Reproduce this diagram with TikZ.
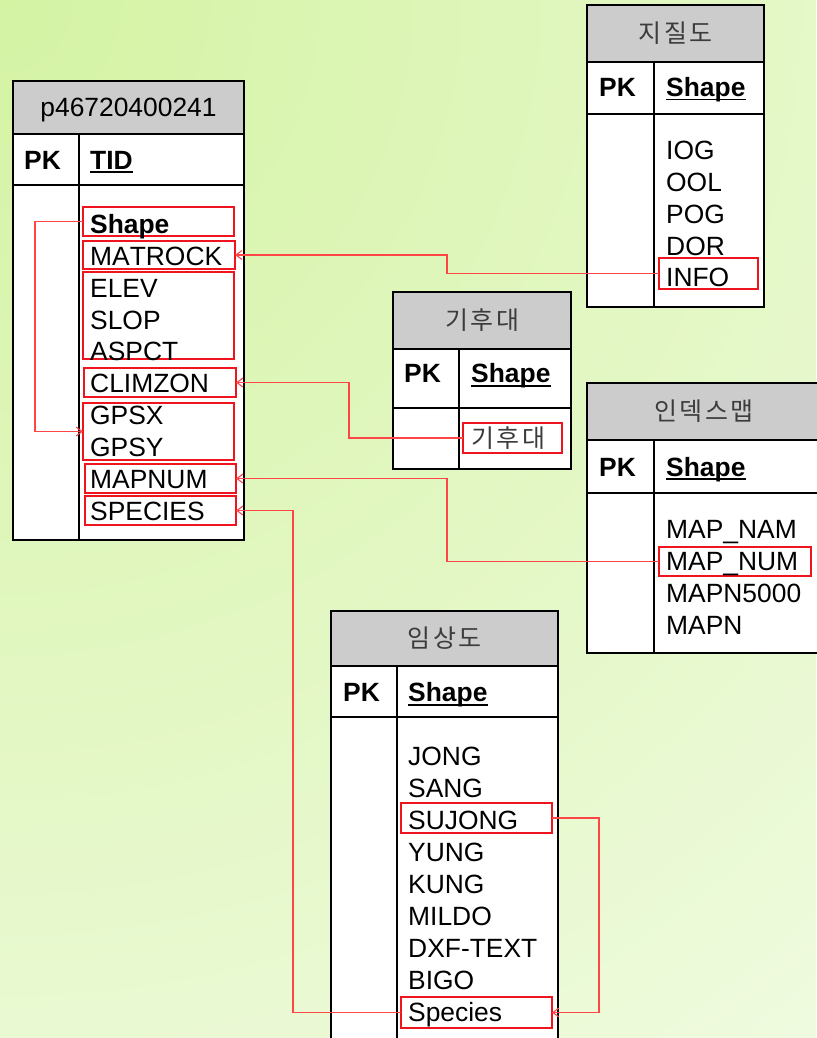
\documentclass[tikz,border=0pt]{standalone}
\usepackage{fontspec}
\setmainfont[Kerning=Off]{Liberation Sans}
\newfontfamily\kr[LetterSpace=10]{Noto Sans CJK KR}
\usetikzlibrary{arrows.meta,calc}
\definecolor{bgpale}{RGB}{247,253,240}
\definecolor{bggreen}{RGB}{212,243,163}
\definecolor{hdrgray}{RGB}{204,204,204}
\definecolor{boxred}{RGB}{240,20,30}
\definecolor{connred}{RGB}{255,70,70}
\definecolor{ttlgray}{RGB}{60,60,60}
\tikzset{
  tbl/.style={draw=black, line width=1.6pt, fill=white, rectangle, inner sep=0pt, outer sep=0pt},
  hdr/.style={tbl, fill=hdrgray},
  tline/.style={draw=black, line width=1.6pt},
  rbox/.style={draw=boxred, line width=1.3pt, rectangle, inner sep=0pt, outer sep=0pt},
  txt/.style={inner sep=0pt, anchor=base west, font=\fontsize{26.4}{31}\selectfont},
  btxt/.style={inner sep=0pt, anchor=base west, font=\fontsize{26.4}{31}\selectfont\bfseries},
  ktxt/.style={inner sep=0pt, font=\fontsize{25}{30}\selectfont\kr, text=ttlgray},
  uline/.style={draw=black, line width=1.8pt},
  conn/.style={draw=connred, line width=1.1pt, -{Straight Barb[length=6pt,width=9pt]}},
}
\newcommand\ertable[8]{%
  \pgfmathsetmacro\ew{#4-#2}\pgfmathsetmacro\eh{#6-#3}%
  \pgfmathsetmacro\ek{#7-#6}\pgfmathsetmacro\eb{#5-#7}%
  \node[hdr,anchor=north west,minimum width=\ew pt,minimum height=\eh pt] (#1h) at (#2,#3) {};
  \node[tbl,anchor=north west,minimum width=\ew pt,minimum height=\ek pt] (#1k) at (#2,#6) {};
  \node[tbl,anchor=north west,minimum width=\ew pt,minimum height=\eb pt] (#1b) at (#2,#7) {};
  \draw[tline] (#8,#6) -- (#8,#5);
}
\newcommand\redfield[5]{%
  \pgfmathsetmacro\ew{#4-#2}\pgfmathsetmacro\eh{#5-#3}%
  \node[rbox,anchor=north west,minimum width=\ew pt,minimum height=\eh pt] (#1) at (#2,#3) {};
}
\newcommand\ulnode[1]{\draw[uline] ([yshift=-2.8pt]#1.base west) -- ([yshift=-2.8pt]#1.base east);}
\begin{document}
\begin{tikzpicture}[x=1pt,y=-1pt]
\useasboundingbox (0,0) rectangle (816,1038);
% background
\begin{scope}
\clip (0,0) rectangle (816,1038);
\fill[bgpale] (0,0) rectangle (816,1038);
\shade[inner color=bggreen, outer color=bgpale] (0,0) circle[radius=1700pt];
\end{scope}

% ---------- tables ----------
\ertable{ta}{13}{81}{244}{540}{134}{185}{79}
\ertable{tb}{587}{5}{764}{307}{62}{114}{654}
\ertable{tc}{393}{292}{571}{469}{349}{408}{459}
\ertable{td}{587}{383}{835}{653}{440}{493}{654}
\ertable{te}{331}{611}{558}{1060}{666}{717}{397}

% ---------- titles ----------
\node[inner sep=0pt, anchor=base, font=\fontsize{26.4}{31}\selectfont] (taT) at (128.5,116.8) {p46720400241};
\node[ktxt] (tbT) at (675.5,33.5) {지질도};
\node[ktxt] (tcT) at (482,320.5) {기후대};
\node[ktxt] (tdT) at (704,411.5) {인덱스맵};
\node[ktxt] (teT) at (444.5,638.5) {임상도};

% ---------- PK rows ----------
\node[btxt] (taP) at (24,169.3) {PK};
\node[btxt] (taK) at (90,169.3) {TID};
\node[btxt] (tbP) at (599,96.8) {PK};
\node[btxt] (tbK) at (666,96.8) {Shape};
\node[btxt] (tcP) at (404,382.8) {PK};
\node[btxt] (tcK) at (471,382.8) {Shape};
\node[btxt] (tdP) at (599,476.5) {PK};
\node[btxt] (tdK) at (666,476.5) {Shape};
\node[btxt] (teP) at (343,701.8) {PK};
\node[btxt] (teK) at (408,701.8) {Shape};
\ulnode{taK}\ulnode{tbK}\ulnode{tcK}\ulnode{tdK}\ulnode{teK}

% ---------- red field boxes ----------
\redfield{shapeA}{83}{207}{234}{236}
\redfield{matrock}{83}{241}{235}{269}
\redfield{elev}{83}{272}{234}{359}
\redfield{climzon}{84}{368}{236}{397}
\redfield{gps}{83}{403}{234}{460}
\redfield{mapnumA}{85}{464}{236}{493}
\redfield{speciesA}{85}{496}{236}{525}
\redfield{info}{659}{258}{758}{289}
\redfield{climbox}{463}{423}{562}{453}
\redfield{mapnumD}{659}{547}{811}{576}
\redfield{sujong}{401}{803}{552}{833}
\redfield{speciesE}{401}{997}{552}{1028}

% ---------- field texts ----------
\node[btxt] (fa0) at (90,233.3) {Shape};
\foreach \t [count=\i from 1] in {MATROCK,ELEV,SLOP,ASPCT,CLIMZON,GPSX,GPSY,MAPNUM,SPECIES}
  \node[txt] (fa\i) at (90,{233.3+31.9*\i}) {\t};
\foreach \t [count=\i from 0] in {IOG,OOL,POG,DOR,INFO}
  \node[txt] (fb\i) at (666,{159.3+31.9*\i}) {\t};
\node[ktxt, anchor=west] (fc0) at (471,438) {기후대};
\foreach \t [count=\i from 0] in {MAP\_NAM,MAP\_NUM,MAPN5000,MAPN}
  \node[txt] (fd\i) at (666,{538.3+31.9*\i}) {\t};
\foreach \t [count=\i from 0] in {JONG,SANG,SUJONG,YUNG,KUNG,MILDO,DXF-TEXT,BIGO,Species}
  \node[txt] (fe\i) at (408,{765.3+32*\i}) {\t};

% ---------- connectors ----------
\draw[conn] (info.west) -- ++(-212,0) |- (matrock.east);
\draw[conn] (climbox.west) -- ++(-114,0) |- (climzon.east);
\draw[conn] (mapnumD.west) -- ++(-212,0) |- (mapnumA.east);
\draw[conn] (speciesE.west) -- ++(-108,0) |- (speciesA.east);
\draw[conn] (sujong.east) -- ++(47,0) |- (speciesE.east);
\draw[conn] (shapeA.west) -- ++(-48,0) |- (gps.west);
\end{tikzpicture}
\end{document}
